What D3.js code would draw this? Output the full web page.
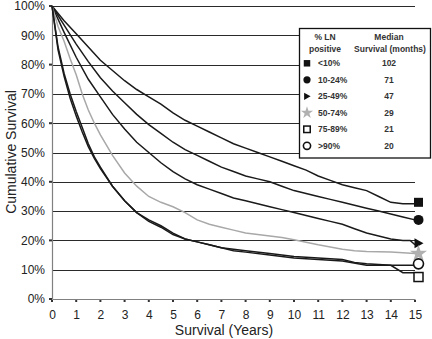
<!DOCTYPE html>
<html>
<head>
<meta charset="utf-8">
<script src="https://cdn.jsdelivr.net/npm/d3@7/dist/d3.min.js"></script>
<style>
  html, body { margin: 0; padding: 0; background: #fff; }
  svg { display: block; }
</style>
</head>
<body>
<svg id="chart" width="432" height="339"></svg>
<script>
// ---- Data ----
const groups = ["<10%", "10-24%", "25-49%", "50-74%", "75-89%", ">90%"];
const medianMonths = ["102", "71", "47", "29", "21", "20"];
const xTicks = [0,1,2,3,4,5,6,7,8,9,10,11,12,13,14,15];
const yTicks = [0,10,20,30,40,50,60,70,80,90,100];

const sLT10 = [[0,100],[0.5,95],[1,90.5],[1.5,86],[2,81.5],[2.5,78],[3,74.5],[3.5,71.5],[4,69],[4.5,66.5],[5,63.5],[5.5,61],[6,59],[6.5,57],[7,55],[7.5,53],[8,51.5],[8.5,50],[9,48.5],[9.5,47],[10,45.5],[10.5,44],[11,42],[11.5,40.5],[12,39],[12.5,38],[13,37],[13.5,35],[14,33],[14.5,32.5],[15,32.5]];
const s10to24 = [[0,100],[0.5,93.5],[1,87],[1.5,81],[2,75.5],[2.5,71],[3,67],[3.5,63],[4,59.5],[4.5,56.5],[5,53.5],[5.5,51],[6,49],[6.5,47],[7,45],[7.5,43.5],[8,42],[8.5,41],[9,40],[9.5,38.5],[10,37],[10.5,36],[11,35],[11.5,34],[12,33],[12.5,32],[13,31],[13.5,30],[14,29],[14.5,28],[15,27]];
const s25to49 = [[0,100],[0.5,91],[1,82.5],[1.5,75],[2,69],[2.5,63],[3,58],[3.5,53.5],[4,50],[4.5,46.5],[5,43.5],[5.5,41],[6,39],[6.5,37.5],[7,36],[7.5,34.5],[8,33.5],[8.5,32.5],[9,31.5],[9.5,30.5],[10,29.5],[10.5,28.5],[11,27.5],[11.5,26.5],[12,25.5],[12.5,24],[13,22.5],[13.5,21.5],[14,20.5],[14.5,20],[14.8,20],[15,18.5]];
const s50to74 = [[0,100],[0.25,93],[0.5,88],[0.75,82],[1,76.5],[1.25,70],[1.5,64.5],[1.75,60],[2,56],[2.5,49],[3,43],[3.5,38.5],[4,35],[4.5,33],[5,31.5],[5.5,29.5],[6,27],[6.5,25.5],[7,24.5],[7.5,23.5],[8,22.5],[8.5,22],[9,21.5],[9.5,21],[10,20.2],[11,18.5],[12,17],[12.5,16.5],[13,16.2],[14,16],[15,15.5]];
const s75to89 = [[0,100],[0.25,86],[0.5,77],[0.75,70],[1,64],[1.25,58.5],[1.5,53],[1.75,48.5],[2,45],[2.5,38.5],[3,33.5],[3.5,29.5],[4,27],[4.5,25],[5,22.5],[5.5,20.5],[6,19.5],[6.5,18.5],[7,17.5],[7.5,17],[8,16.5],[9,15.5],[10,14.5],[11,14],[12,13.5],[12.5,12.5],[13,12],[14,11.5],[14.5,9],[15,9]];
const sGT90 = [[0,100],[0.25,85],[0.5,76],[0.75,68.5],[1,62.5],[1.25,57],[1.5,52],[1.75,48],[2,44.5],[2.5,38.5],[3,33.5],[3.5,29.5],[4,26.5],[4.5,24.5],[5,22],[5.5,20.5],[6,19.5],[6.5,18.5],[7,17.5],[7.5,16.5],[8,16],[9,15],[10,14],[11,13.5],[12,13],[13,11.5],[14,11.5],[15,11.5]];
const endMarkerValues = [33, 27, 19, 15.5, 7.5, 12];

const seriesList = [sLT10, s10to24, s25to49, s50to74, s75to89, sGT90];
const seriesColor = ["#1a1a1a", "#1a1a1a", "#1a1a1a", "#a8a8a8", "#1a1a1a", "#1a1a1a"];
const markerType = ["square", "circle", "triangle", "star", "squareOpen", "circleOpen"];

// ---- Layout ----
const svg = d3.select("#chart");
const x = d3.scaleLinear().domain([0, 15]).range([52, 415]);
const y = d3.scaleLinear().domain([0, 100]).range([299, 6]);
const font = "Arial, 'Liberation Sans', sans-serif";

// gridlines
svg.append("g").selectAll("line").data(yTicks.filter(d => d > 0)).join("line")
  .attr("x1", x(0)).attr("x2", x(15))
  .attr("y1", d => Math.round(y(d)) + 0.5).attr("y2", d => Math.round(y(d)) + 0.5)
  .attr("stroke", "#2a2a2a").attr("stroke-width", 1);

// axes
const yAxis = d3.axisLeft(y).tickValues(yTicks).tickFormat(d => d + "%").tickSize(0).tickPadding(7);
const gy = svg.append("g").attr("transform", `translate(${x(0)},0)`).call(yAxis);
gy.select(".domain").attr("stroke", "#808080").attr("stroke-width", 1.2);
gy.selectAll("text").attr("font-family", font).attr("font-size", 12).attr("fill", "#222");

const xAxis = d3.axisBottom(x).tickValues(xTicks).tickSize(0).tickPadding(11);
const gx = svg.append("g").attr("transform", `translate(0,${y(0)})`).call(xAxis);
gx.select(".domain").attr("stroke", "#808080").attr("stroke-width", 1.2);
gx.selectAll("text").attr("font-family", font).attr("font-size", 12).attr("fill", "#222");

// small tick marks
svg.append("g").selectAll("rect").data(xTicks).join("rect")
  .attr("x", d => x(d) - 1).attr("y", y(0) + 1).attr("width", 2).attr("height", 2).attr("fill", "#333");
svg.append("g").selectAll("rect").data(yTicks.filter(d => d % 20 === 0)).join("rect")
  .attr("x", x(0) - 3).attr("y", d => y(d) - 1).attr("width", 3).attr("height", 2).attr("fill", "#333");

// axis titles
svg.append("text").attr("x", 224).attr("y", 335).attr("text-anchor", "middle")
  .attr("font-family", font).attr("font-size", 14).attr("fill", "#222").text("Survival (Years)");
svg.append("text").attr("transform", `translate(16,152) rotate(-90)`).attr("text-anchor", "middle")
  .attr("font-family", font).attr("font-size", 14).attr("fill", "#222").text("Cumulative Survival");

// curves
const line = d3.line().x(d => x(d[0])).y(d => y(d[1])).curve(d3.curveLinear);
seriesList.forEach((s, i) => {
  svg.append("path").attr("d", line(s)).attr("fill", "none")
    .attr("stroke", seriesColor[i]).attr("stroke-width", 1.5);
});

// marker drawing
function drawMarker(g, type, cx, cy, scale) {
  const k = scale;
  if (type === "square") {
    g.append("rect").attr("x", cx - 4.5*k).attr("y", cy - 4.5*k).attr("width", 9*k).attr("height", 9*k).attr("fill", "#111");
  } else if (type === "circle") {
    g.append("circle").attr("cx", cx).attr("cy", cy).attr("r", 5*k).attr("fill", "#111");
  } else if (type === "triangle") {
    g.append("path").attr("d", `M${cx-4*k},${cy-5*k}L${cx+5*k},${cy}L${cx-4*k},${cy+5*k}Z`).attr("fill", "#111");
  } else if (type === "star") {
    g.append("path").attr("d", d3.symbol(d3.symbolStar, 90*k*k)()).attr("transform", `translate(${cx},${cy})`).attr("fill", "#b0b0b0");
  } else if (type === "squareOpen") {
    g.append("rect").attr("x", cx - 4.5*k).attr("y", cy - 4.5*k).attr("width", 9*k).attr("height", 9*k)
      .attr("fill", "#fff").attr("stroke", "#111").attr("stroke-width", 1.5);
  } else if (type === "circleOpen") {
    g.append("circle").attr("cx", cx).attr("cy", cy).attr("r", 5*k).attr("fill", "#fff").attr("stroke", "#111").attr("stroke-width", 1.6);
  }
}

const mg = svg.append("g");
endMarkerValues.forEach((v, i) => {
  drawMarker(mg, markerType[i], x(15) + 3.5, y(v), 1);
});

// legend
const lg = svg.append("g");
lg.append("rect").attr("x", 299.5).attr("y", 28.5).attr("width", 131).attr("height", 129.5)
  .attr("fill", "#fff").attr("stroke", "#111").attr("stroke-width", 1.3);
const lfont = { "font-family": font, "font-size": 8.5, "font-weight": "bold", "fill": "#333" };
function ltext(tx, ty, str, anchor) {
  const t = lg.append("text").attr("x", tx).attr("y", ty).attr("text-anchor", anchor).text(str);
  Object.entries(lfont).forEach(([k, v]) => t.attr(k, v));
}
ltext(325, 40, "% LN", "middle");
ltext(325, 51.5, "positive", "middle");
ltext(389, 40, "Median", "middle");
ltext(390, 51.5, "Survival (months)", "middle");
groups.forEach((gname, i) => {
  const cy = 63.3 + i * 16.5;
  drawMarker(lg, markerType[i], 307, cy, 0.72);
  ltext(318, cy + 3, gname, "start");
  ltext(389, cy + 3, medianMonths[i], "middle");
});
</script>
</body>
</html>
